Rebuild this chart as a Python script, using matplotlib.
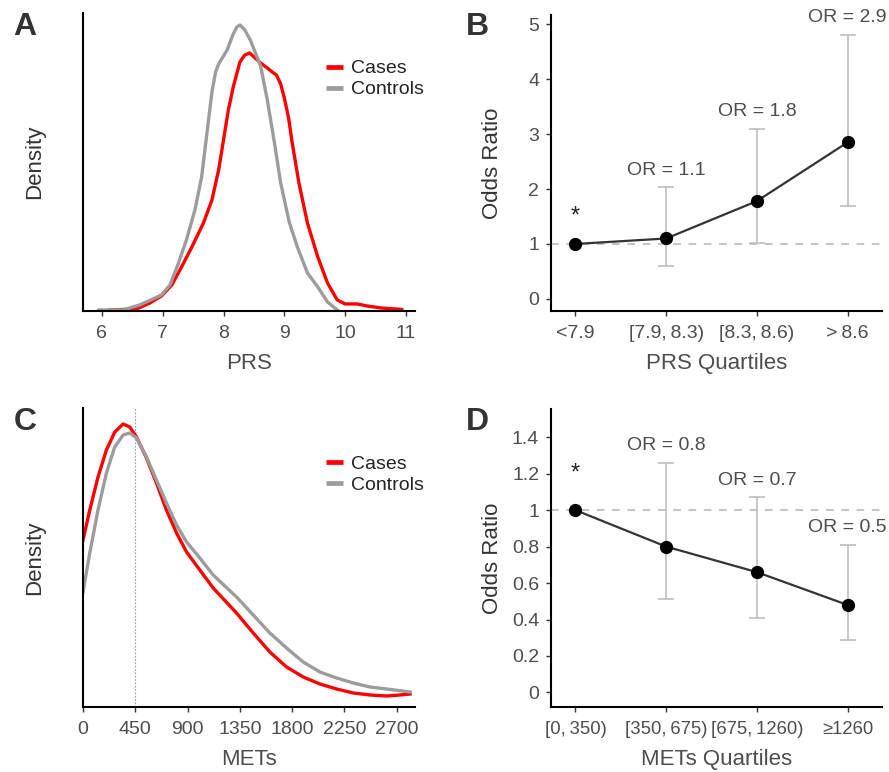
import numpy as np
import matplotlib
matplotlib.use('Agg')
from matplotlib import pyplot as plt

plt.rcParams['font.family'] = ['Liberation Sans', 'DejaVu Sans']

RED = '#ff0000'
GREY = '#9c9c9c'
TXT = '#4d4d4d'
TS = '\u2009'  # thin space used in the interval labels

# panel A: PRS density, cases vs controls (arbitrary density units)
prs_case_x = [6.13, 6.57, 6.79, 6.98, 7.15, 7.31, 7.48, 7.67, 7.81, 7.92, 8.0, 8.08, 8.16, 8.27,
              8.35, 8.43, 8.52, 8.61, 8.72, 8.8, 8.87, 8.94, 9.0, 9.07, 9.13, 9.24, 9.38, 9.55,
              9.71, 9.87, 10.0, 10.2, 10.36, 10.59, 10.93]
prs_case_y = [0, 1, 7, 14, 25, 43, 63, 87, 110, 140, 170, 200, 223, 248,
              255, 257, 252, 247, 242, 238, 235, 226, 212, 192, 167, 127, 87, 53,
              27, 10, 6, 6, 4, 2, 0.5]
prs_ctrl_x = [5.95, 6.35, 6.62, 6.84, 6.98, 7.12, 7.26, 7.39, 7.53, 7.64, 7.72, 7.81, 7.87, 7.92,
              8.06, 8.16, 8.22, 8.27, 8.35, 8.44, 8.61, 8.72, 8.83, 8.94, 9.08, 9.22, 9.38, 9.55,
              9.71, 9.87]
prs_ctrl_y = [0, 0, 5, 11, 15, 25, 47, 70, 100, 133, 173, 218, 238, 246,
              260, 276, 283, 285, 280, 270, 244, 210, 170, 127, 88, 62, 37, 23,
              8, 0]

# panel B: odds ratio by PRS quartile
prs_quart = ['<7.9', '[7.9,' + TS + '8.3)', '[8.3,' + TS + '8.6)', '>' + TS + '8.6']
prs_or = [1.0, 1.1, 1.78, 2.85]
prs_lo = [np.nan, 0.6, 1.02, 1.7]
prs_hi = [np.nan, 2.03, 3.1, 4.8]
prs_or_text = ['', 'OR = 1.1', 'OR = 1.8', 'OR = 2.9']

# panel C: METs density, cases vs controls
met_case_x = [0, 58, 129, 201, 273, 345, 402, 460, 546, 632, 718, 805, 891, 1005, 1120,
              1321, 1465, 1608, 1752, 1895, 2039, 2183, 2326, 2470, 2614, 2728, 2815]
met_case_y = [166, 196, 229, 256, 274, 282, 279, 269, 248, 223, 196, 173, 154, 136, 118,
              93, 73, 54, 39, 29, 22, 17, 13, 11, 10, 11, 12]
met_ctrl_x = [0, 58, 129, 201, 273, 345, 402, 460, 546, 632, 718, 805, 891, 1005, 1120,
              1321, 1465, 1608, 1752, 1895, 2039, 2183, 2326, 2470, 2614, 2815]
met_ctrl_y = [114, 153, 196, 233, 259, 271, 273, 268, 249, 226, 203, 181, 164, 148, 131,
              109, 91, 73, 58, 44, 34, 28, 23, 19, 17, 14]

# panel D: odds ratio by METs quartile
met_quart = ['[0,' + TS + '350)', '[350,' + TS + '675)', '[675,' + TS + '1260)', '\u22651260']
met_or = [1.0, 0.8, 0.66, 0.48]
met_lo = [np.nan, 0.51, 0.41, 0.29]
met_hi = [np.nan, 1.26, 1.07, 0.81]
met_or_text = ['', 'OR = 0.8', 'OR = 0.7', 'OR = 0.5']


def style_axes(ax):
    for s in ['top', 'right']:
        ax.spines[s].set_visible(False)
    for s in ['left', 'bottom']:
        ax.spines[s].set_linewidth(1.5)
        ax.spines[s].set_color('black')
    ax.tick_params(length=3.5, width=1.0, color='#333333', labelsize=14,
                   labelcolor=TXT, pad=5)
    ax.tick_params(axis='x', pad=6.5)


def density_panel(ax, xc, yc, xk, yk, xlabel):
    ax.plot(xc, yc, color=RED, lw=2.4, label='Cases', solid_joinstyle='round')
    ax.plot(xk, yk, color=GREY, lw=2.4, label='Controls', solid_joinstyle='round')
    style_axes(ax)
    ax.set_yticks([])
    ax.set_ylabel('Density', fontsize=16, color='#333333')
    ax.set_xlabel(xlabel, fontsize=16, color=TXT)
    ax.yaxis.set_label_coords(-0.115, 0.5)
    ax.xaxis.set_label_coords(0.5, -0.142)
    leg = ax.legend(loc='upper left', bbox_to_anchor=(0.733, 0.843), frameon=False,
                    fontsize=14, handlelength=0.85, handletextpad=0.4,
                    labelspacing=0.18, borderpad=0, borderaxespad=0)
    for h in leg.get_lines():
        h.set_linewidth(3.4)
        h.set_solid_capstyle('butt')
    for t in leg.get_texts():
        t.set_color('#222222')


def or_panel(ax, cats, ors, lo, hi, labels, xlabel, star_y, cat_size=14):
    x = np.arange(1, len(cats) + 1)
    ax.axhline(1, color='#b3b3b3', lw=1.1, ls=(0, (5, 5)), zorder=1)
    ors = np.array(ors)
    lo = np.array(lo)
    hi = np.array(hi)
    ax.errorbar(x, ors, yerr=[ors - lo, hi - ors], fmt='none', ecolor='#bdbdbd',
                elinewidth=1.2, capsize=5.5, capthick=1.2, zorder=2)
    ax.plot(x, ors, color='#333333', lw=1.6, zorder=3)
    ax.plot(x, ors, 'o', color='black', ms=8.5, zorder=4)
    for xi, h, t in zip(x, hi, labels):
        if t:
            ax.annotate(t, (xi, h), xytext=(0, 12.5), textcoords='offset points',
                        ha='center', va='center', fontsize=14, color=TXT,
                        annotation_clip=False)
    ax.text(x[0], star_y, '*', ha='center', va='center', fontsize=17, color='#222222')
    style_axes(ax)
    ax.set_xticks(x)
    ax.set_xticklabels(cats, fontsize=cat_size)
    ax.set_ylabel('Odds Ratio', fontsize=16, color='#333333')
    ax.set_xlabel(xlabel, fontsize=16, color=TXT)
    ax.yaxis.set_label_coords(-0.145, 0.5)
    ax.xaxis.set_label_coords(0.5, -0.142)


fig = plt.figure(figsize=(8.89, 7.72), dpi=100)
axA = fig.add_axes([0.0934, 0.5972, 0.3735, 0.386])
axB = fig.add_axes([0.6198, 0.5972, 0.3723, 0.3834])
axC = fig.add_axes([0.0934, 0.0842, 0.3735, 0.3873])
axD = fig.add_axes([0.6198, 0.0842, 0.3723, 0.386])

density_panel(axA, prs_case_x, prs_case_y, prs_ctrl_x, prs_ctrl_y, 'PRS')
axA.set_xlim(5.69, 11.15)
axA.set_ylim(-1, 297)
axA.set_xticks([6, 7, 8, 9, 10, 11])

or_panel(axB, prs_quart, prs_or, prs_lo, prs_hi, prs_or_text, 'PRS Quartiles', 1.5)
axB.set_xlim(0.73, 4.38)
axB.set_ylim(-0.22, 5.17)
axB.set_yticks([0, 1, 2, 3, 4, 5])

density_panel(axC, met_case_x, met_case_y, met_ctrl_x, met_ctrl_y, 'METs')
axC.axvline(450, color='#999999', lw=0.8, ls=(0, (1.5, 1.5)), zorder=0)
axC.set_xlim(0, 2858)
axC.set_ylim(-1, 298)
axC.set_xticks([0, 450, 900, 1350, 1800, 2250, 2700])

or_panel(axD, met_quart, met_or, met_lo, met_hi, met_or_text, 'METs Quartiles', 1.2,
         cat_size=13.3)
axD.set_xlim(0.73, 4.38)
axD.set_ylim(-0.08, 1.555)
axD.set_yticks([0, 0.2, 0.4, 0.6, 0.8, 1.0, 1.2, 1.4])
axD.set_yticklabels(['0', '0.2', '0.4', '0.6', '0.8', '1', '1.2', '1.4'])

# panel letters
for lab, (px, py) in zip('ABCD', [(25, 27), (477, 27), (25, 422), (477, 422)]):
    fig.text(px / 889, 1 - py / 772, lab, fontsize=23, fontweight='bold',
             color='#333333', ha='center', va='center')

fig.savefig('out.png', dpi=100)
